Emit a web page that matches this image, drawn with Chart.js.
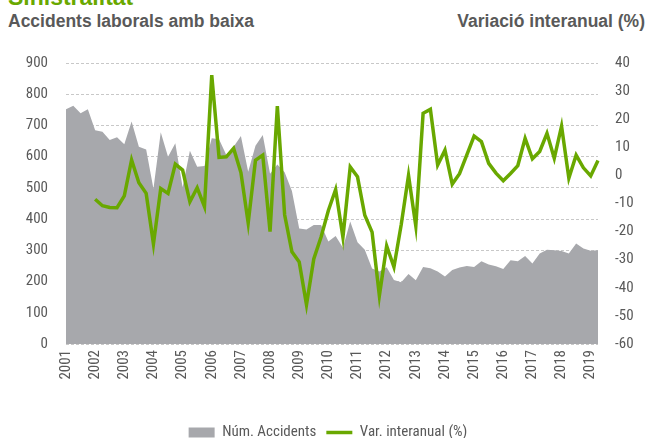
<!DOCTYPE html>
<html>
<head>
<meta charset="utf-8">
<script src="https://cdn.jsdelivr.net/npm/chart.js@4.4.1/dist/chart.umd.min.js"></script>
<style>
  html, body { margin: 0; padding: 0; background: #ffffff; width: 653px; height: 438px; overflow: hidden; }
  #wrap { position: absolute; left: 0; top: 0; width: 653px; height: 450px; }
  .t { position: absolute; font-family: 'Liberation Sans', Arial, sans-serif; font-weight: bold; white-space: nowrap; }
  #sup { left: 8px; top: -17px; font-size: 23px; color: #69a800; line-height: 28px; }
  #t1 { left: 8px; top: 11px; font-size: 17.5px; color: #595959; line-height: 20px; }
  #t2 { right: 8px; top: 11px; font-size: 17.5px; color: #595959; line-height: 20px; }
</style>
</head>
<body>
<div class="t" id="sup">Sinistralitat</div>
<div class="t" id="t1">Accidents laborals amb baixa</div>
<div class="t" id="t2">Variació interanual (%)</div>
<div id="wrap"><canvas id="c" width="653" height="450"></canvas></div>
<script>
// Years shown on the axis (one label per year, at the first quarter)
const years = ['2001','2002','2003','2004','2005','2006','2007','2008','2009','2010',
               '2011','2012','2013','2014','2015','2016','2017','2018','2019'];
const quarters = ['T1','T2','T3','T4'];
const nPoints = 74; // 2001 T1 .. 2019 T2

// Quarterly number of accidents (left axis)
const accidents = [752,763,739,752, 685,680,653,662, 640,713,632,623, 497,678,600,643,
                   502,619,568,570, 659,656,605,632, 666,552,635,669, 545,575,550,490,
                   370,367,381,381, 328,346,308,392, 326,302,242,232, 246,205,198,224,
                   204,247,243,232, 216,237,245,250, 247,265,255,249, 240,268,265,282,
                   258,290,302,300, 298,290,322,306, 299,300];

// Year-on-year variation in % (right axis), starts 2002 T1
const variation = [null,null,null,null,
                   -8.5,-10.8,-11.4,-11.5, -7.3,5.5,-2.6,-6.4, -24.4,-4.7,-6.4,4.0,
                   1.9,-9.4,-4.4,-11.1, 35.7,6.4,6.6,9.6, 1.0,-16.9,5.4,7.2,
                   -20.0,24.7,-14.0,-27.2, -30.8,-46.0,-29.7,-21.9, -12.5,-5.0,-22.0,3.0,
                   -0.5,-14.2,-20.2,-42.8, -25.1,-32.6,-17.5,0.0, -18.0,22.1,23.5,3.7,
                   9.0,-3.1,0.6,7.3, 14.0,12.0,4.3,0.8, -1.9,0.7,3.5,13.2,
                   5.9,8.5,15.0,6.1, 17.5,-1.0,7.2,2.7, -0.2,5.3];

const seriesNames = ['Núm. Accidents', 'Var. interanual (%)'];

const categories = [];
years.forEach(y => quarters.forEach(q => categories.push(y + ' ' + q)));
categories.length = nPoints;

const FONT = "'Liberation Sans Narrow', 'Roboto Condensed', 'DejaVu Sans Condensed', 'Liberation Sans', sans-serif";
const TXT = '#595959';

new Chart(document.getElementById('c'), {
  type: 'line',
  data: {
    labels: categories,
    datasets: [
      {
        label: seriesNames[0],
        data: accidents,
        yAxisID: 'yL',
        fill: 'origin',
        backgroundColor: '#a7a8ac',
        borderColor: '#a7a8ac',
        borderWidth: 0,
        pointRadius: 0,
        tension: 0,
        order: 2,
        pointStyle: 'rect'
      },
      {
        label: seriesNames[1],
        data: variation,
        yAxisID: 'yR',
        fill: false,
        borderColor: '#69a800',
        backgroundColor: '#69a800',
        borderWidth: 3.5,
        pointRadius: 0,
        tension: 0,
        order: 1,
        pointStyle: 'line',
        borderJoinStyle: 'miter'
      }
    ]
  },
  options: {
    responsive: false,
    animation: false,
    devicePixelRatio: 1,
    layout: { padding: { left: 8, right: 5, top: 63, bottom: 0 } },
    plugins: {
      tooltip: { enabled: false },
      legend: {
        position: 'bottom',
        labels: {
          color: TXT,
          font: { family: FONT, size: 15 },
          usePointStyle: true,
          pointStyleWidth: 26,
          boxHeight: 10,
          padding: 10,
          sort: (a, b) => a.datasetIndex - b.datasetIndex
        }
      }
    },
    scales: {
      x: {
        type: 'category',
        offset: false,
        grid: { display: false, drawTicks: false },
        border: { display: false },
        ticks: {
          autoSkip: false,
          minRotation: 90,
          maxRotation: 90,
          padding: 6,
          color: TXT,
          font: { family: FONT, size: 15 },
          callback: function (v, i) { return i % 4 === 0 ? years[i / 4] : ''; }
        },
        afterFit: function (s) { s.height = 71; }
      },
      yL: {
        position: 'left',
        min: 0, max: 900,
        grid: { color: '#c8c8c8', lineWidth: 1, drawTicks: false },
        border: { display: false, dash: [3, 2] },
        ticks: { stepSize: 100, padding: 18, color: TXT, font: { family: FONT, size: 15 } },
        afterFit: function (s) { s.width = 58; }
      },
      yR: {
        position: 'right',
        min: -60, max: 40,
        grid: { display: false, drawTicks: false },
        border: { display: false },
        ticks: { stepSize: 10, padding: 17, color: TXT, font: { family: FONT, size: 15 } },
        afterFit: function (s) { s.width = 50; }
      }
    }
  }
});
</script>
</body>
</html>
